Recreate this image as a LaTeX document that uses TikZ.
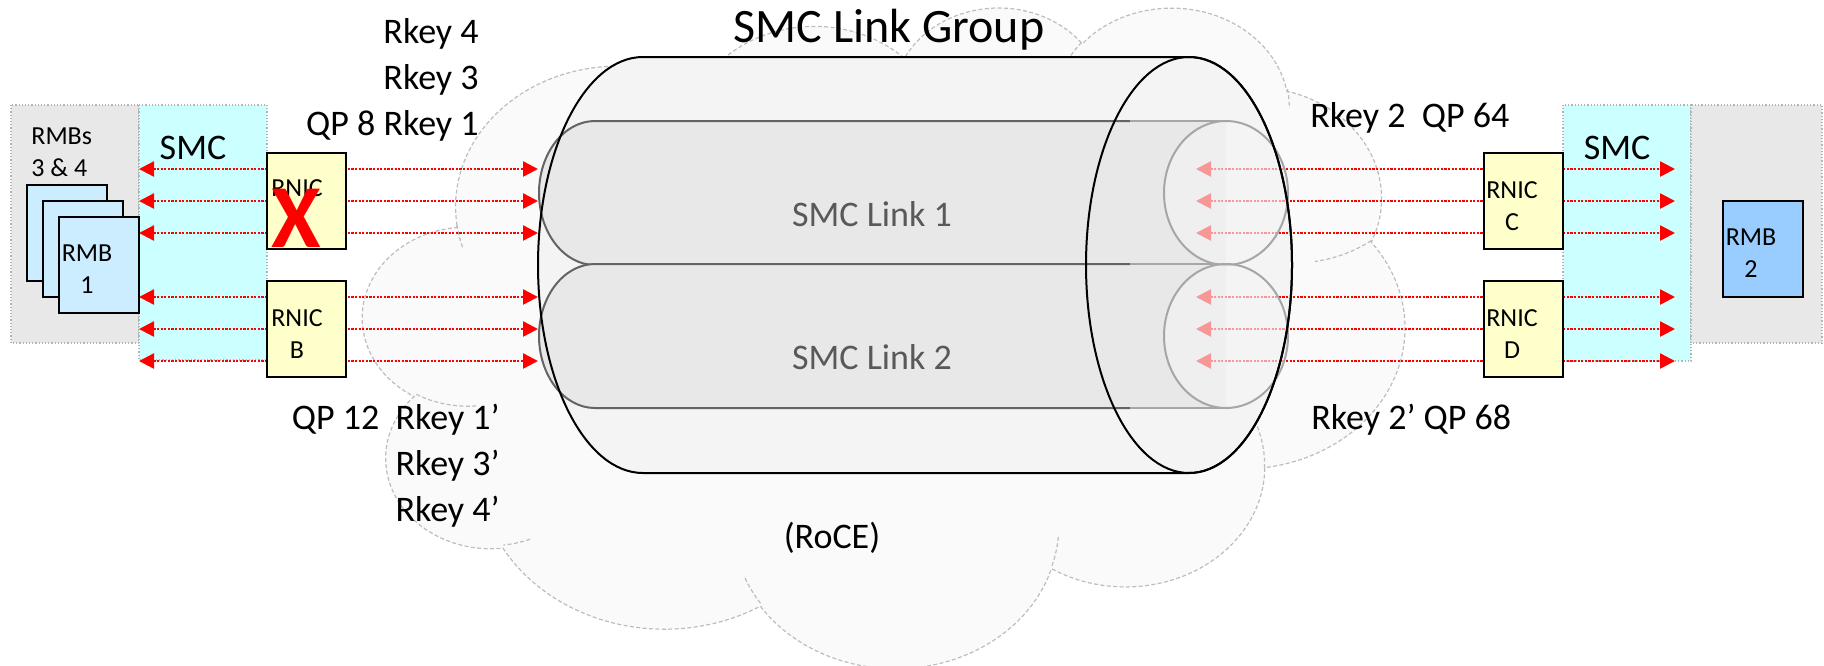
\documentclass[tikz,border=0pt]{standalone}
\usepackage{fontspec}
\setmainfont{Carlito}
\usetikzlibrary{arrows.meta}
\definecolor{sidegray}{HTML}{E8E8E8}
\definecolor{sideline}{HTML}{B4B4B4}
\definecolor{smccyan}{HTML}{CCFFFF}
\definecolor{rmblight}{HTML}{CCECFF}
\definecolor{rmbdark}{HTML}{99CCFF}
\definecolor{rnicyellow}{HTML}{FFFFCC}
\definecolor{cloudfill}{HTML}{FAFAFA}
\definecolor{cloudline}{HTML}{BDBDBD}
\definecolor{outerfill}{HTML}{F4F4F4}
\definecolor{innerfill}{HTML}{E8E8E8}
\definecolor{innerline}{HTML}{646464}
\definecolor{faceline}{HTML}{A6A6A6}
\definecolor{facefill}{HTML}{F4F4F4}
\definecolor{linkred}{HTML}{FF0000}
\definecolor{linktext}{HTML}{595959}
% cloud geometry (43.2 x 43.2 thousand shape units mapped to the frame)
\def\cxs{0.012060pt}
\def\cys{0.0076389pt}
\newcommand\oopt[2]{({363+#1*24.120},{6+#2*15.2778})}
\newcommand\ooarc[4]{arc[start angle={-atan2(#1*sin(#3),#2*cos(#3))},
  delta angle={-mod(atan2(#1*sin(#3+#4),#2*cos(#3+#4))-atan2(#1*sin(#3),#2*cos(#3))+720,360)},
  x radius={#1*\cxs}, y radius={#2*\cys}]}
\begin{document}
\begin{tikzpicture}[x=0.5pt,y=-0.5pt,
  sidebox/.style={fill=sidegray, draw=sideline, densely dotted, line width=0.6pt},
  smcbox/.style={fill=smccyan, draw=sideline, densely dotted, line width=0.6pt},
  rnicbox/.style={fill=rnicyellow, draw=black, line width=1pt, inner sep=0pt, minimum width=39.5pt, minimum height=48pt},
  rmbbox/.style={fill=rmblight, draw=black, line width=1pt, inner sep=0pt, minimum width=40pt, minimum height=48pt},
  rmbtwo/.style={fill=rmbdark, draw=black, line width=1pt, inner sep=0pt, minimum width=40pt, minimum height=48pt},
  small/.style={inner sep=0pt, align=center, font=\fontsize{13}{16}\selectfont},
  lbl/.style={inner sep=0pt, font=\fontsize{18}{23}\selectfont},
  linklbl/.style={inner sep=0pt, text=linktext, font=\fontsize{18}{22}\selectfont},
  cloudedge/.style={draw=cloudline, dash pattern=on 2pt off 1.2pt, line width=0.6pt},
  rdma/.style={draw=linkred, line width=1.2pt, dash pattern=on 1.1pt off 0.7pt,
    {Triangle[length=7.5pt,width=7.5pt]}-{Triangle[length=7.5pt,width=7.5pt]}},
]
\useasboundingbox (0,0) rectangle (1824,665);

% side boxes
\path[sidebox] (11,105) rectangle (139,343);
\path[smcbox] (139,105) rectangle (267,360);
\path[smcbox] (1563,105) rectangle (1691,361);
\path[sidebox] (1691,105) rectangle (1822,343);

% cloud (RoCE network)
\path[cloudedge, fill=cloudfill] \oopt{3.900}{14.370}
  \ooarc{6753}{9190}{-190.4875}{123.7805}
  \ooarc{5333}{7267}{-144.1024}{89.9452}
  \ooarc{4365}{5945}{-145.8079}{99.7230}
  \ooarc{4857}{6595}{-130.9861}{117.2417}
  \ooarc{5333}{7273}{-78.7089}{109.0269}
  \ooarc{6775}{9220}{-46.2673}{130.2690}
  \ooarc{5785}{7867}{0.6250}{114.0333}
  \ooarc{6752}{9215}{22.4516}{115.1726}
  \ooarc{7720}{10543}{66.2426}{75.7110}
  \ooarc{4360}{5918}{-274.9421}{146.7356}
  \ooarc{4345}{5945}{-246.8285}{152.5189} -- cycle;
\path[cloudedge]
  \oopt{4.693}{26.177} \ooarc{4345}{5945}{86.7420}{26.4295}
  \oopt{6.928}{34.899} \ooarc{4360}{5918}{73.6105}{11.4475}
  \oopt{16.478}{39.090} \ooarc{6752}{9215}{137.6241}{14.0811}
  \oopt{28.827}{34.751} \ooarc{6752}{9215}{6.4533}{15.9984}
  \oopt{34.129}{22.954} \ooarc{5785}{7867}{-70.2924}{74.1182}
  \oopt{41.798}{15.354} \ooarc{5333}{7273}{61.0535}{22}
  \oopt{38.324}{5.426} \ooarc{4857}{6595}{-13.7443}{14.8589}
  \oopt{29.078}{3.952} \ooarc{4857}{6595}{-149.1815}{18.1954}
  \oopt{22.141}{4.720} \ooarc{4365}{5945}{-163.4943}{17.6864}
  \oopt{14.000}{5.192} \ooarc{6753}{9190}{-66.7070}{12.3194}
  \oopt{4.127}{15.789} \ooarc{6753}{9190}{157.6544}{11.8582};

% outer cylinder (link group) fill
\fill[outerfill] (643,57) -- (1189,57)
  arc[start angle=90,end angle=-90,x radius=51.5pt,y radius=104pt]
  -- (643,473)
  arc[start angle=270,end angle=90,x radius=52.5pt,y radius=104pt] -- cycle;

% inner cylinders
\foreach \cy in {193,336}{
  \fill[innerfill] (595,\cy-72) -- (1226,\cy-72) -- (1226,\cy+72) -- (595,\cy+72)
    arc[start angle=270,end angle=90,x radius=28pt,y radius=36pt] -- cycle;
  \draw[innerline, line width=1pt] (1130,\cy-72) -- (595,\cy-72)
    arc[start angle=90,end angle=270,x radius=28pt,y radius=36pt] -- (1130,\cy+72);
  \draw[faceline, line width=1pt] (1130,\cy-72) -- (1226,\cy-72);
  \draw[faceline, line width=1pt] (1130,\cy+72) -- (1226,\cy+72);
}

% connector end points
\foreach \yy [count=\i] in {169,201,233,297,329,361}{
  \coordinate (l\i) at (139,\yy);
  \coordinate (m\i) at (538,\yy);
  \coordinate (n\i) at (1196,\yy);
  \coordinate (r\i) at (1675,\yy);
}
\foreach \i in {1,...,6}{
  \draw[rdma] (l\i) -- (m\i);
  \draw[rdma] (n\i) -- (r\i);
}

% right faces of inner cylinders (semi transparent)
\foreach \cy in {193,336}{
  \filldraw[fill=facefill, fill opacity=0.62, draw=faceline, line width=1pt]
    (1226,\cy) ellipse[x radius=31pt, y radius=36pt];
}

% outer cylinder outline
\draw[black, line width=1pt] (643,57) -- (1189,57)
  arc[start angle=90,end angle=-90,x radius=51.5pt,y radius=104pt]
  -- (643,473)
  arc[start angle=270,end angle=90,x radius=52.5pt,y radius=104pt] -- cycle;
\draw[black, line width=1pt] (1189,265) ellipse[x radius=51.5pt, y radius=104pt];

% RMB stack left
\node[rmbbox] (rmb4) at (67,233) {};
\node[rmbbox] (rmb3) at (83,249) {};
\node[rmbbox] (rmb1) at (98.5,265) {};
\node[small, anchor=north west, align=left] (rmbs) at (31,127) {RMBs\\3 \& 4};
\node[small] (rmb1t) at (87,269) {RMB\\1};

% RNIC boxes
\node[rnicbox] (rnicA) at (306.5,201) {};
\node[rnicbox] (rnicB) at (306.5,329) {};
\node[rnicbox] (rnicC) at (1523,201) {};
\node[rnicbox] (rnicD) at (1523,329) {};
\node[small, anchor=base] (rnicAt) at (297,196) {RNIC};
\node[text=linkred, inner sep=0pt, font=\fontsize{45}{45}\selectfont\bfseries] (xmark) at (296,218) {X};
\node[small] (rnicBt) at (297,334) {RNIC\\B};
\node[small] (rnicCt) at (1512,206) {RNIC\\C};
\node[small] (rnicDt) at (1512,334) {RNIC\\D};

% RMB 2
\node[rmbtwo] (rmb2) at (1763,249) {};
\node[small] (rmb2t) at (1751,253) {RMB\\2};

% SMC labels
\node[lbl] (smcL) at (193,148) {SMC};
\node[lbl] (smcR) at (1617,148) {SMC};

% titles and keys
\node[inner sep=0pt, font=\fontsize{24}{28}\selectfont] (group) at (889,30) {SMC Link Group};
\node[linklbl] (link1) at (872,214) {SMC Link 1};
\node[linklbl] (link2) at (872,357) {SMC Link 2};
\node[lbl, anchor=east, align=right] (keysA) at (479,80) {Rkey 4\\Rkey 3\\QP 8 Rkey 1};
\node[lbl, anchor=east, align=right] (keysB) at (500,466) {QP 12\ \ Rkey 1’\\Rkey 3’\\Rkey 4’};
\node[lbl, anchor=west] (keysC) at (1310,118) {Rkey 2\ \ QP 64};
\node[lbl, anchor=west] (keysD) at (1311,420) {Rkey 2’ QP 68};
\node[lbl] (roce) at (832,538) {(RoCE)};
\end{tikzpicture}
\end{document}
